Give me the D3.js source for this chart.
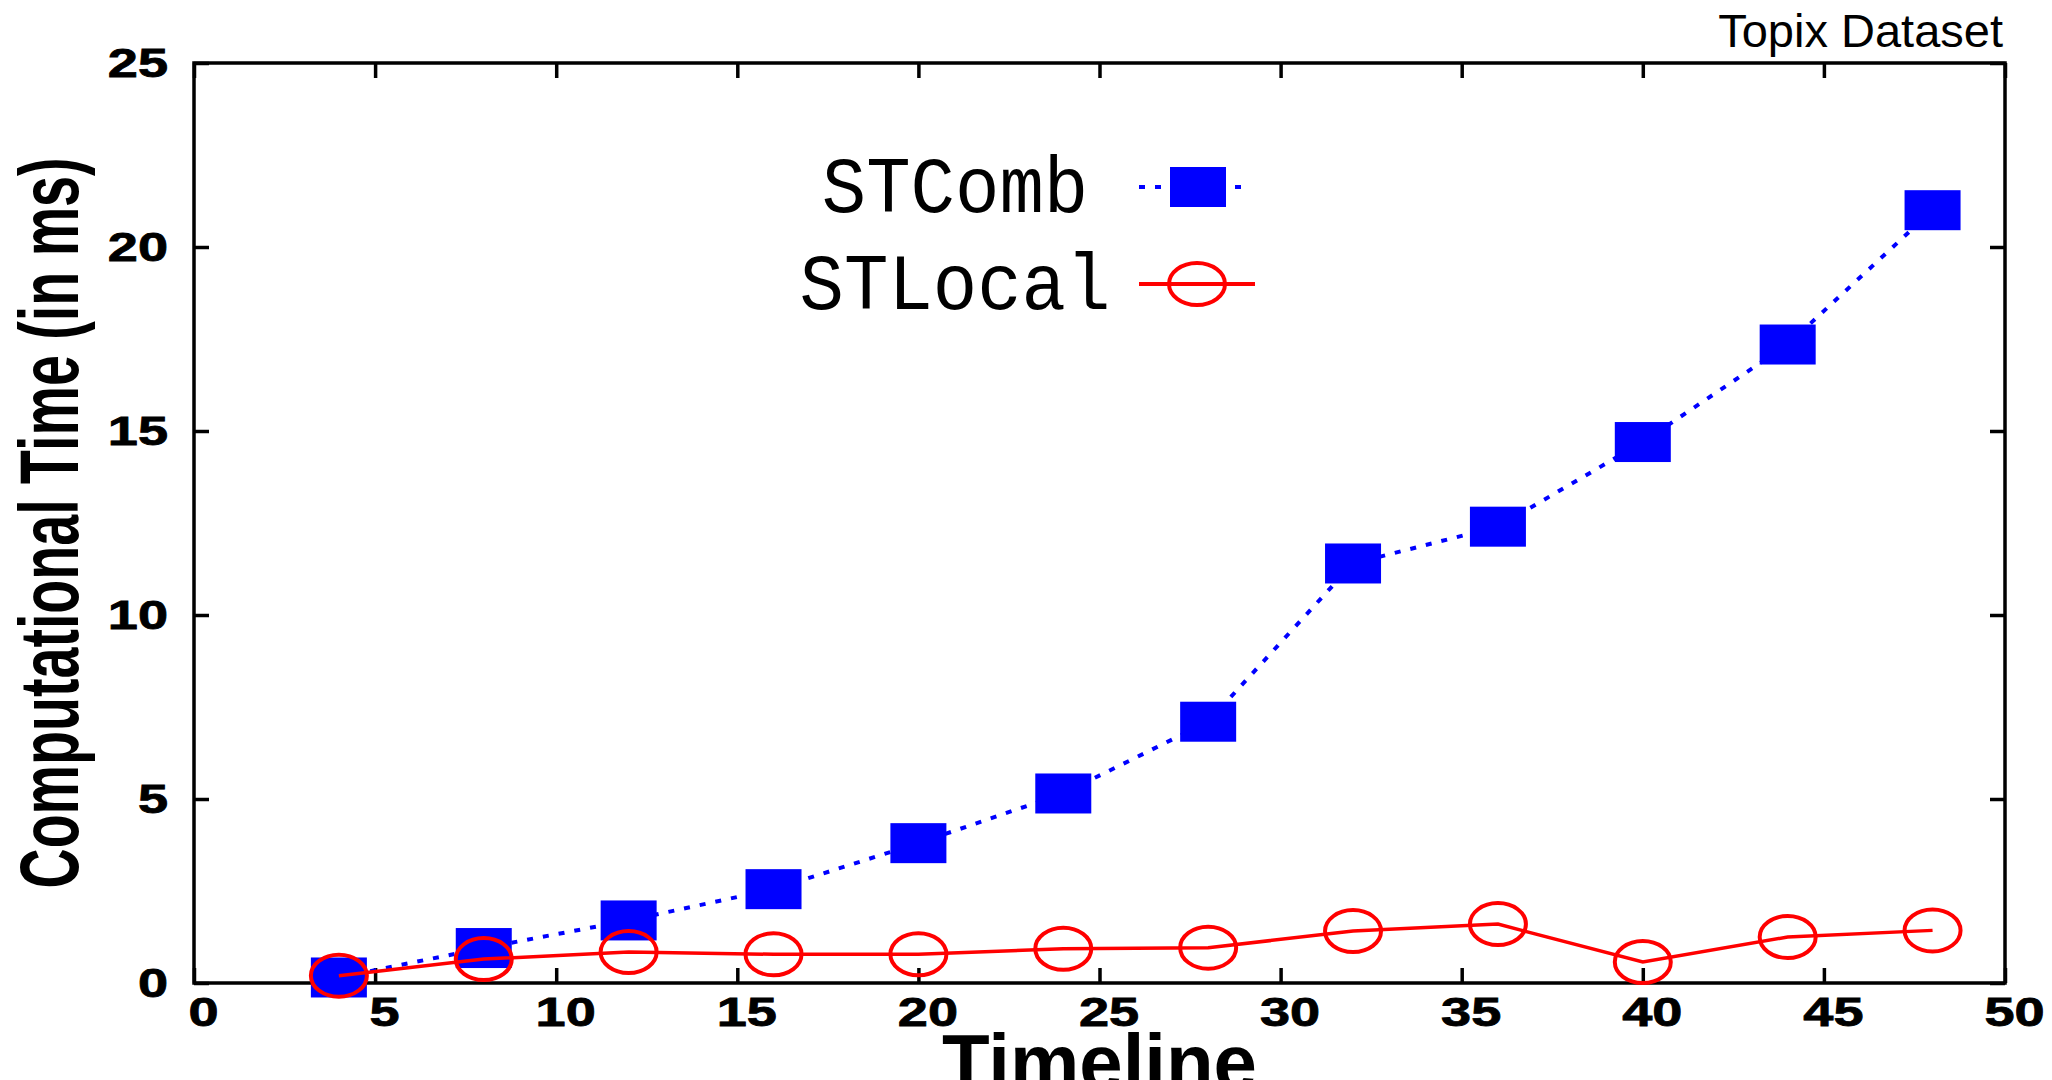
<!DOCTYPE html>
<html>
<head>
<meta charset="utf-8">
<script src="https://cdn.jsdelivr.net/npm/d3@7"></script>
<style>
  body { margin: 0; background: #fff; }
  svg { display: block; }
</style>
</head>
<body>
<div id="chart"></div>
<script>
//data
var timeline = [4, 8, 12, 16, 20, 24, 28, 32, 36, 40, 44, 48];
var stComb = [0.15, 0.95, 1.7, 2.55, 3.8, 5.15, 7.1, 11.4, 12.4, 14.7, 17.35, 21.0];
var stLocal = [0.2, 0.65, 0.84, 0.78, 0.78, 0.93, 0.96, 1.41, 1.6, 0.57, 1.25, 1.43];
var xTicks = [0, 5, 10, 15, 20, 25, 30, 35, 40, 45, 50];
var yTicks = [0, 5, 10, 15, 20, 25];
var seriesNames = ["STComb", "STLocal"];

var W = 2052, H = 1080;
var box = {left: 194, right: 2005, top: 63, bottom: 983};
var tickLen = 15;
var stretch = 1.32; //tick labels are wider than normal

var svg = d3.select("#chart").append("svg")
  .attr("width", W)
  .attr("height", H);

var x = d3.scaleLinear().domain([0, 50]).range([box.left, box.right]);
var y = d3.scaleLinear().domain([0, 25]).range([box.bottom, box.top]);

//axes, ticks pointing inward on all four sides
function styleAxis(g) {
  g.select(".domain").remove();
  g.selectAll(".tick line").attr("stroke", "#000").attr("stroke-width", 3.5);
  g.selectAll(".tick text")
    .attr("fill", "#000")
    .attr("stroke", "#000")
    .attr("stroke-width", 0.8)
    .attr("font-family", "Liberation Sans, Arial, sans-serif")
    .attr("font-weight", "bold")
    .attr("font-size", 41);
}

svg.append("g")
  .attr("transform", "translate(0," + box.bottom + ")")
  .call(d3.axisBottom(x).tickValues(xTicks).tickSize(-tickLen).tickPadding(14))
  .call(styleAxis)
  .call(function(g) {
    g.selectAll(".tick text")
      .attr("x", 9 / stretch)
      .attr("transform", "scale(" + stretch + ",1)");
  });

svg.append("g")
  .attr("transform", "translate(0," + box.top + ")")
  .call(d3.axisTop(x).tickValues(xTicks).tickSize(-tickLen).tickFormat(""))
  .call(styleAxis);

svg.append("g")
  .attr("transform", "translate(" + box.left + ",0)")
  .call(d3.axisLeft(y).tickValues(yTicks).tickSize(-tickLen).tickPadding(26))
  .call(styleAxis)
  .call(function(g) {
    g.selectAll(".tick text")
      .attr("x", -26 / stretch)
      .attr("transform", "scale(" + stretch + ",1)");
  });

svg.append("g")
  .attr("transform", "translate(" + box.right + ",0)")
  .call(d3.axisRight(y).tickValues(yTicks).tickSize(-tickLen).tickFormat(""))
  .call(styleAxis);

//frame
svg.append("rect")
  .attr("x", box.left)
  .attr("y", box.top)
  .attr("width", box.right - box.left)
  .attr("height", box.bottom - box.top)
  .attr("fill", "none")
  .attr("stroke", "#000")
  .attr("stroke-width", 3.5);

//axis titles
svg.append("text")
  .attr("transform", "translate(78," + (box.top + box.bottom) / 2 + ") rotate(-90) scale(0.662,1)")
  .attr("text-anchor", "middle")
  .attr("font-family", "Liberation Sans, Arial, sans-serif")
  .attr("font-weight", "bold")
  .attr("font-size", 84)
  .text("Computational Time (in ms)");

svg.append("text")
  .attr("x", (box.left + box.right) / 2)
  .attr("y", 1089)
  .attr("text-anchor", "middle")
  .attr("font-family", "Liberation Sans, Arial, sans-serif")
  .attr("font-weight", "bold")
  .attr("font-size", 78)
  .text("Timeline");

svg.append("text")
  .attr("x", 2003)
  .attr("y", 47)
  .attr("text-anchor", "end")
  .attr("font-family", "Liberation Sans, Arial, sans-serif")
  .attr("font-size", 47)
  .text("Topix Dataset");

//series
var combData = timeline.map(function(t, i) { return [t, stComb[i]]; });
var localData = timeline.map(function(t, i) { return [t, stLocal[i]]; });

var line = d3.line()
  .x(function(d) { return x(d[0]); })
  .y(function(d) { return y(d[1]); });

var sqW = 56, sqH = 40;  //marker sizes
var cRx = 28, cRy = 21;

svg.append("path")
  .datum(combData)
  .attr("d", line)
  .attr("fill", "none")
  .attr("stroke", "#0000ff")
  .attr("stroke-width", 4)
  .attr("stroke-dasharray", "6,10");

svg.append("g").selectAll("rect")
  .data(combData)
  .enter()
  .append("rect")
  .attr("x", function(d) { return x(d[0]) - sqW / 2; })
  .attr("y", function(d) { return y(d[1]) - sqH / 2; })
  .attr("width", sqW)
  .attr("height", sqH)
  .attr("fill", "#0000ff");

svg.append("path")
  .datum(localData)
  .attr("d", line)
  .attr("fill", "none")
  .attr("stroke", "#ff0000")
  .attr("stroke-width", 3.5);

svg.append("g").selectAll("ellipse")
  .data(localData)
  .enter()
  .append("ellipse")
  .attr("cx", function(d) { return x(d[0]); })
  .attr("cy", function(d) { return y(d[1]); })
  .attr("rx", cRx)
  .attr("ry", cRy)
  .attr("fill", "none")
  .attr("stroke", "#ff0000")
  .attr("stroke-width", 4);

//legend
var legend = svg.append("g");
var keyY = [187, 284];

legend.selectAll("text")
  .data(seriesNames)
  .enter()
  .append("text")
  .attr("transform", function(d, i) { return "translate(955," + (keyY[i] + 25) + ") scale(1,1.07)"; })
  .attr("text-anchor", "middle")
  .attr("font-family", "Liberation Mono, Courier New, monospace")
  .attr("font-size", 74)
  .text(function(d) { return d; });

legend.append("line")
  .attr("x1", 1139).attr("x2", 1250)
  .attr("y1", keyY[0]).attr("y2", keyY[0])
  .attr("stroke", "#0000ff")
  .attr("stroke-width", 4)
  .attr("stroke-dasharray", "6,10");

legend.append("rect")
  .attr("x", 1198 - sqW / 2)
  .attr("y", keyY[0] - sqH / 2)
  .attr("width", sqW)
  .attr("height", sqH)
  .attr("fill", "#0000ff");

legend.append("line")
  .attr("x1", 1139).attr("x2", 1255)
  .attr("y1", keyY[1]).attr("y2", keyY[1])
  .attr("stroke", "#ff0000")
  .attr("stroke-width", 4);

legend.append("ellipse")
  .attr("cx", 1197)
  .attr("cy", keyY[1])
  .attr("rx", cRx)
  .attr("ry", cRy)
  .attr("fill", "none")
  .attr("stroke", "#ff0000")
  .attr("stroke-width", 4);
</script>
</body>
</html>
